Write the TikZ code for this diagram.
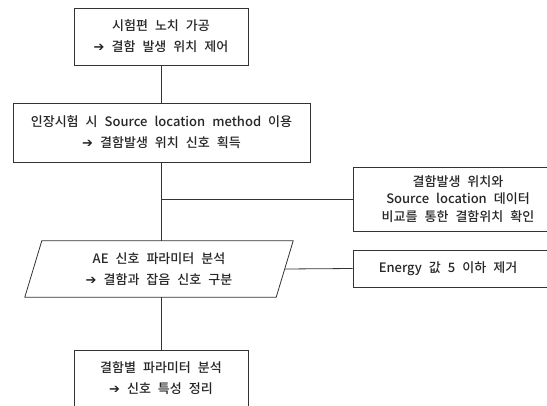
\documentclass[tikz,border=0pt]{standalone}
\usepackage{fontspec}
\setmainfont{Noto Sans CJK KR}[UprightFont=* Medium, WordSpace=2.4]
\newfontfamily\arrowfont{DejaVu Sans}
\newcommand{\resarrow}{{\arrowfont\bfseries\fontsize{13}{13}\selectfont ➔}\ }

\begin{document}
\begin{tikzpicture}[x=1pt, y=-1pt,
        every node/.style={font=\fontsize{13}{21}\selectfont, align=center, text=black!85},
        box/.style={draw=black!80, line width=0.8pt, inner sep=0pt},
        link/.style={draw=black!80, line width=0.8pt}]
        % frame
        \useasboundingbox (0,0) rectangle (547,405);
        \clip (0,0) rectangle (547,405);
        % main flow
        \node[box, minimum width=174pt, minimum height=57pt](notch)at(161,36.5){시험편 노치 가공\\ \resarrow 결함 발생 위치 제어};
        \node[box, minimum width=297pt, minimum height=59pt](tensile)at(161.5,132.5){인장시험 시 Source location method 이용\\ \resarrow 결함발생 위치 신호 획득};
        \node[inner sep=0pt, minimum width=251pt, minimum height=56pt](param)at(159,269){AE 신호 파라미터 분석\\ \resarrow 결함과 잡음 신호 구분};
        \path[link]([xshift=8.5pt]param.north west)--([xshift=8.5pt]param.north east)--([xshift=-8.5pt]param.south east)--([xshift=-8.5pt]param.south west)--cycle;
        \node[box, minimum width=174pt, minimum height=57pt](defect)at(161,378.5){결함별 파라미터 분석\\ \resarrow 신호 특성 정리};
        % side boxes
        \node[box, minimum width=210pt, minimum height=64pt, font=\fontsize{13}{17.5}\selectfont](check)at(458,199){결함발생 위치와\\ Source location 데이터\\ 비교를 통한 결함위치 확인\hspace{20pt}};
        \node[box, minimum width=210pt, minimum height=37pt](energy)at(458,268.5){Energy 값 5 이하 제거\hspace{20pt}};
        % links
        \path[link](notch.south)to(notch.south |- tensile.north);
        \path[link](notch.south |- tensile.south)to(notch.south |- param.north);
        \path[link](notch.south |- check.west)to(check.west);
        \path[link](param.east)to(energy.west);
        \path[link](notch.south |- param.south)to(notch.south |- defect.north);
\end{tikzpicture}
\end{document}
